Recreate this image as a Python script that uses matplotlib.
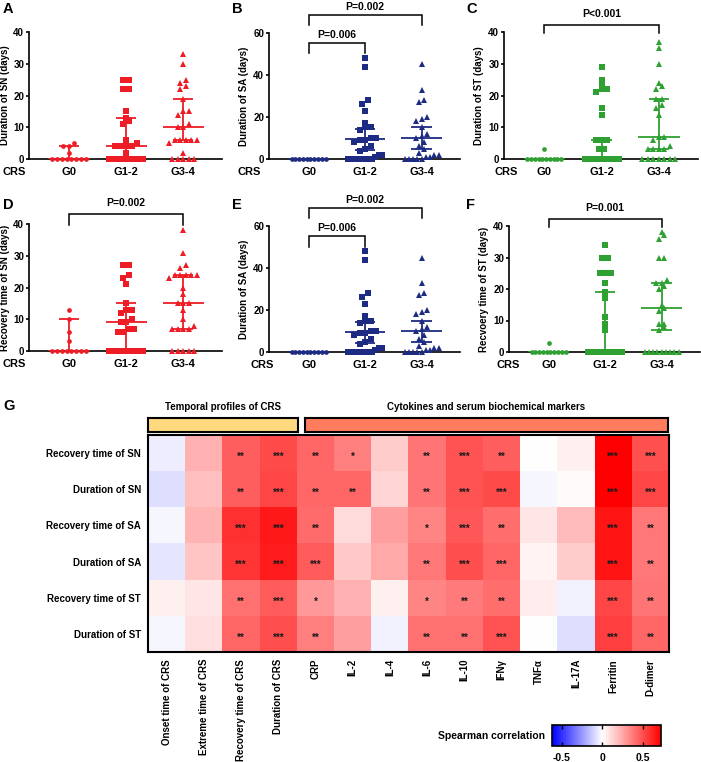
import numpy as np
import matplotlib
matplotlib.use("Agg")
import matplotlib.pyplot as plt
from matplotlib.colors import LinearSegmentedColormap, Normalize
from matplotlib.cm import ScalarMappable

plt.rcParams['font.family'] = ['Liberation Sans', 'DejaVu Sans']
plt.rcParams['font.weight'] = 'bold'
plt.rcParams['axes.linewidth'] = 1.2

W, H = 701, 762

groups = ["G0", "G1-2", "G3-4"]

# ---- scatter data (days) ----
dur_sn = [
    [0, 0, 0, 0, 0, 0, 0, 0, 2, 4, 4, 5],
    [0, 0, 0, 0, 0, 0, 0, 0, 2, 4, 4, 4, 4, 5, 6, 11, 12, 13, 15, 22, 22, 25, 25],
    [0, 0, 0, 0, 0, 2, 5, 6, 6, 6, 6, 6, 10, 10, 11, 14, 15, 15, 19, 22, 23, 24, 25, 30, 33],
]
dur_sn_stats = [(0, 0, 4), (4, 0, 13), (10, 6, 19)]   # median, q1, q3

dur_sa = [
    [0, 0, 0, 0, 0, 0, 0, 0, 0, 0],
    [0, 0, 0, 0, 0, 0, 0, 0, 1, 2, 2, 4, 5, 6, 8, 9, 9, 10, 10, 14, 15, 15, 17, 23, 26, 28, 44, 48],
    [0, 0, 0, 0, 0, 1, 1, 2, 2, 3, 5, 6, 8, 10, 11, 12, 15, 18, 19, 20, 27, 28, 33, 45],
]
dur_sa_stats = [(0, 0, 0), (9.5, 4.5, 14.5), (10, 5, 15)]

dur_st = [
    [0, 0, 0, 0, 0, 0, 0, 0, 0, 0, 3],
    [0, 0, 0, 0, 0, 0, 0, 0, 0, 0, 0, 0, 0, 0, 0, 0, 3, 3, 6, 6, 6, 14, 16, 21, 22, 22, 23, 25, 29],
    [0, 0, 0, 0, 0, 0, 0, 3, 3, 3, 3, 4, 6, 7, 7, 14, 16, 17, 19, 19, 22, 23, 24, 30, 35, 37],
]
dur_st_stats = [(0, 0, 0), (0, 0, 6), (7, 3, 19)]

rec_sn = [
    [0, 0, 0, 0, 0, 0, 0, 0, 3, 6, 10, 13],
    [0, 0, 0, 0, 0, 0, 0, 0, 6, 6, 7, 7, 9, 9, 10, 12, 13, 13, 15, 21, 23, 24, 27, 27],
    [0, 0, 0, 0, 0, 7, 7, 7, 7, 8, 10, 13, 15, 15, 15, 18, 20, 23, 24, 24, 24, 24, 24, 26, 27, 31, 38],
]
rec_sn_stats = [(0, 0, 10), (9, 0, 15), (15, 7, 24)]

rec_st = [
    [0, 0, 0, 0, 0, 0, 0, 0, 0, 0, 3],
    [0, 0, 0, 0, 0, 0, 0, 0, 0, 0, 0, 0, 0, 0, 0, 7, 9, 11, 17, 19, 22, 25, 25, 25, 30, 30, 34],
    [0, 0, 0, 0, 0, 0, 0, 0, 0, 7, 8, 9, 9, 13, 14, 15, 20, 21, 22, 22, 23, 30, 30, 36, 37, 38],
]
rec_st_stats = [(0, 0, 0), (0, 0, 19), (14, 7, 22)]

# ---- heatmap data ----
hm_rows = ["Recovery time of SN", "Duration of SN", "Recovery time of SA",
           "Duration of SA", "Recovery time of ST", "Duration of ST"]
hm_cols = ["Onset time of CRS", "Extreme time of CRS", "Recovery time of CRS",
           "Duration of CRS", "CRP", "IL-2", "IL-4", "IL-6", "IL-10", "IFNγ",
           "TNFα", "IL-17A", "Ferritin", "D-dimer"]
rho = np.array([
    [-0.04, 0.22, 0.45, 0.51, 0.43, 0.36, 0.14, 0.39, 0.48, 0.45, 0.00, 0.04, 0.72, 0.49],
    [-0.08, 0.18, 0.45, 0.52, 0.43, 0.43, 0.12, 0.39, 0.48, 0.51, -0.02, 0.01, 0.72, 0.52],
    [-0.02, 0.21, 0.58, 0.65, 0.42, 0.10, 0.27, 0.34, 0.47, 0.41, 0.07, 0.19, 0.66, 0.38],
    [-0.06, 0.16, 0.57, 0.64, 0.46, 0.15, 0.24, 0.38, 0.50, 0.43, 0.03, 0.14, 0.66, 0.38],
    [0.04, 0.07, 0.40, 0.46, 0.29, 0.22, 0.04, 0.34, 0.37, 0.41, 0.05, -0.03, 0.52, 0.39],
    [-0.02, 0.09, 0.43, 0.50, 0.36, 0.27, -0.03, 0.40, 0.40, 0.48, 0.00, -0.08, 0.54, 0.43],
])
stars = [
    ["", "", "**", "***", "**", "*", "", "**", "***", "**", "", "", "***", "***"],
    ["", "", "**", "***", "**", "**", "", "**", "***", "***", "", "", "***", "***"],
    ["", "", "***", "***", "**", "", "", "*", "***", "**", "", "", "***", "**"],
    ["", "", "***", "***", "***", "", "", "**", "***", "***", "", "", "***", "**"],
    ["", "", "**", "***", "*", "", "", "*", "**", "**", "", "", "***", "**"],
    ["", "", "**", "***", "**", "", "", "**", "**", "***", "", "", "***", "**"],
]
vmin, vmax = -0.62, 0.72

RED = '#EE1C25'
NAVY = '#1E2B82'
GREEN = '#2FA032'


def px(l, t, r, b):
    return [l / W, 1 - b / H, (r - l) / W, (b - t) / H]


def swarm(ax, vals, center, step=5.5, maxw=34, D=4.6):
    pos = ax.get_position()
    ah, aw = pos.height * H, pos.width * W
    y0, y1 = ax.get_ylim()
    x0, x1 = ax.get_xlim()
    vals = np.asarray(vals, float)
    ypx = (vals - y0) / (y1 - y0) * ah
    ppx = aw / (x1 - x0)
    order = np.argsort(vals, kind='stable')
    rows, cur, start = [], [], None
    for i in order:
        if start is None or ypx[i] - start >= D:
            if cur:
                rows.append(cur)
            cur, start = [i], ypx[i]
        else:
            cur.append(i)
    rows.append(cur)
    xs = np.zeros(len(vals))
    for r in rows:
        n = len(r)
        s = step if n < 2 else min(step, maxw / (n - 1))
        for k, i in enumerate(r):
            xs[i] = center + (k - (n - 1) / 2) * s / ppx
    return xs


fig = plt.figure(figsize=(W / 100, H / 100), dpi=100)

markers = [('o', 3.4), ('s', 3.7), ('^', 4.3)]


def dot_panel(rect, data, stats, color, ymax, yticks, ylabel, lab_x, crs_x, brackets):
    ax = fig.add_axes(px(*rect))
    ax.set_xlim(-0.7, 2.68)
    ax.set_ylim(0, ymax)
    for sp in ['top', 'right']:
        ax.spines[sp].set_visible(False)
    ax.set_yticks(yticks)
    ax.set_xticks([0, 1, 2])
    ax.set_xticklabels(groups)
    ax.tick_params(axis='x', length=0, labelsize=8, pad=6)
    ax.tick_params(axis='y', length=2.5, width=1.2, labelsize=7, pad=1)
    ax.set_ylabel(ylabel, fontsize=7, fontweight='bold')
    ax.yaxis.set_label_coords((lab_x - rect[0]) / (rect[2] - rect[0]), 0.5)
    for i, (vals, (med, q1, q3)) in enumerate(zip(data, stats)):
        xs = swarm(ax, vals, i)
        m, ms = markers[i]
        ax.plot(xs, vals, linestyle='none', marker=m, markersize=ms,
                color=color, markeredgewidth=0, clip_on=False, zorder=3)
        if q3 > q1:
            ax.vlines(i, q1, q3, color=color, lw=1.3, zorder=4)
            ax.hlines([q1, q3], i - 0.18, i + 0.18, color=color, lw=1.3, zorder=4)
        ax.hlines(med, i - 0.36, i + 0.36, color=color, lw=1.3, zorder=4)
    for (g0, g1, yd, yh, yt, txt) in brackets:
        ax.plot([g0, g0, g1, g1], [yd, yh, yh, yd], color='black', lw=1.1,
                clip_on=False, solid_joinstyle='miter')
        ax.text((g0 + g1) / 2, yt, txt, ha='center', va='center', fontsize=7.5,
                fontweight='bold')
    fig.text(crs_x / W, 1 - (rect[3] + 13) / H, "CRS", ha='center', va='center',
             fontsize=8, fontweight='bold')
    return ax


# row 1
dot_panel((29, 32, 222, 159), dur_sn, dur_sn_stats, RED, 40, [0, 10, 20, 30, 40],
          "Duration of SN (days)", 10.5, 14, [])
dot_panel((269, 33, 460, 159), dur_sa, dur_sa_stats, NAVY, 60, [0, 20, 40, 60],
          "Duration of SA (days)", 249, 249,
          [(0, 2, 63.8, 68.6, 72.6, "P=0.002"), (0, 1, 50.5, 55.2, 59.2, "P=0.006")])
dot_panel((504, 32, 698, 159), dur_st, dur_st_stats, GREEN, 40, [0, 10, 20, 30, 40],
          "Duration of ST (days)", 484, 506, [(0, 2, 39.8, 42.3, 45.6, "P<0.001")])
# row 2
dot_panel((29, 224, 222, 351), rec_sn, rec_sn_stats, RED, 40, [0, 10, 20, 30, 40],
          "Recovery time of SN (days)", 10.5, 14, [(0, 2, 39.8, 43.1, 46.6, "P=0.002")])
dot_panel((269, 226, 460, 352), dur_sa, dur_sa_stats, NAVY, 60, [0, 20, 40, 60],
          "Duration of SA (days)", 249, 262,
          [(0, 2, 63.8, 68.6, 72.6, "P=0.002"), (0, 1, 49.8, 55.2, 59.2, "P=0.006")])
dot_panel((509, 226, 700, 352), rec_st, rec_st_stats, GREEN, 40, [0, 10, 20, 30, 40],
          "Recvoery time of ST (days)", 489, 508, [(0, 2, 39.6, 42.3, 45.8, "P=0.001")])

# panel letters
for letter, x, y in [("A", 3, 9), ("B", 232, 9), ("C", 466, 9),
                     ("D", 3, 205), ("E", 232, 205), ("F", 466, 205), ("G", 3, 406)]:
    fig.text(x / W, 1 - y / H, letter, ha='left', va='center', fontsize=10.5,
             fontweight='bold')

# ---- heatmap ----
cmap = LinearSegmentedColormap.from_list(
    'bwr_sp', [(0, '#0000FF'), (-vmin / (vmax - vmin), '#FFFFFF'), (1, '#FF0000')])
norm = Normalize(vmin=vmin, vmax=vmax)

axh = fig.add_axes(px(148, 435, 669, 652))
axh.imshow(rho, cmap=cmap, norm=norm, aspect='auto', interpolation='nearest')
for r in range(rho.shape[0]):
    for c in range(rho.shape[1]):
        if stars[r][c]:
            axh.text(c, r + 0.1, stars[r][c], ha='center', va='center',
                     fontsize=7, fontweight='bold', color='#1a1a1a')
axh.set_yticks(range(len(hm_rows)))
axh.set_yticklabels(hm_rows, fontsize=7)
axh.set_xticks(range(len(hm_cols)))
axh.set_xticklabels(hm_cols, rotation=90, fontsize=7, va='top')
axh.tick_params(length=0, pad=5)
axh.tick_params(axis='y', pad=5)
for sp in axh.spines.values():
    sp.set_linewidth(1.5)

# category bars above heatmap
for (l, r, col, txt) in [(148, 298, '#FFD97F', "Temporal profiles of CRS"),
                         (305, 668, '#FF7D5E', "Cytokines and serum biochemical markers")]:
    ab = fig.add_axes(px(l, 418, r, 432))
    ab.set_facecolor(col)
    ab.set_xticks([])
    ab.set_yticks([])
    for sp in ab.spines.values():
        sp.set_linewidth(1.5)
    fig.text((l + r) / 2 / W, 1 - 407 / H, txt, ha='center', va='center',
             fontsize=7, fontweight='bold')

# colorbar
cax = fig.add_axes(px(552, 725, 661, 746))
cb = fig.colorbar(ScalarMappable(norm=norm, cmap=cmap), cax=cax,
                  orientation='horizontal', ticks=[-0.5, 0, 0.5])
cb.ax.set_xticklabels(['-0.5', '0', '0.5'])
cb.ax.tick_params(labelsize=7.5, direction='in', length=3, width=1, top=True,
                  pad=5)
cb.outline.set_linewidth(1.2)
fig.text(545 / W, 1 - 736 / H, "Spearman correlation", ha='right', va='center',
         fontsize=7.5, fontweight='bold')

fig.savefig("out.png", dpi=100)
